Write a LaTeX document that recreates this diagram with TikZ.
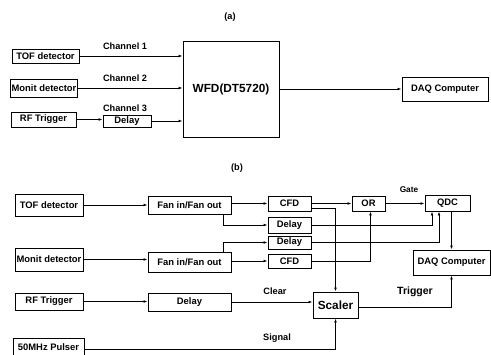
\documentclass[tikz,border=0pt]{standalone}
\usepackage{fontspec}
\setmainfont{Liberation Sans}
\usetikzlibrary{arrows.meta,calc}
\begin{document}
\begin{tikzpicture}[x=1pt,y=-1pt,
  blk/.style={draw,line width=0.9pt,inner sep=0pt,font=\bfseries\fontsize{9.4}{10}\selectfont},
  lbl/.style={inner sep=0pt,font=\bfseries\fontsize{9.2}{10}\selectfont},
  con/.style={line width=0.85pt,-{Latex[length=4pt,width=2.8pt]}},
  wire/.style={line width=0.85pt}]
\useasboundingbox (0,0) rectangle (491,355);
\clip (0,0) rectangle (491,355);
% ---------- (a) ----------
\node[lbl] (la) at (230,17) {(a)};
\node[blk,minimum width=67pt,minimum height=14pt] (tofA) at (45.5,56) {TOF detector};
\node[blk,minimum width=67pt,minimum height=18pt] (monA) at (44,88) {Monit detector};
\node[blk,minimum width=65pt,minimum height=15pt] (rfA) at (43.5,119.5) {RF Trigger};
\node[blk,minimum width=48pt,minimum height=12pt] (delA) at (127,121) {Delay};
\node[blk,minimum width=96pt,minimum height=96pt,font=\bfseries\fontsize{11.8}{13}\selectfont] (wfd) at (231,89) {WFD(DT5720)};
\node[blk,minimum width=86pt,minimum height=24pt] (daqA) at (445,89) {DAQ Computer};
\node[lbl] (c1) at (125,46) {Channel 1};
\node[lbl] (c2) at (125,78) {Channel 2};
\node[lbl] (c3) at (125,108) {Channel 3};
\draw[con] (tofA.east) -- (tofA.east -| wfd.west);
\draw[con] (monA.east) -- (monA.east -| wfd.west);
\draw[con] (rfA.east) -- (rfA.east -| delA.west);
\draw[con] (delA.east) -- (delA.east -| wfd.west);
\draw[con] (wfd.east) -- (wfd.east -| daqA.west);
% ---------- (b) ----------
\node[lbl] (lb) at (237,168) {(b)};
\node[blk,minimum width=68pt,minimum height=22pt] (tofB) at (49,205) {TOF detector};
\node[blk,minimum width=68pt,minimum height=23pt] (monB) at (49,259.5) {Monit detector};
\node[blk,minimum width=68pt,minimum height=17pt] (rfB) at (49,301.5) {RF Trigger};
\node[blk,minimum width=71pt,minimum height=19pt] (pul) at (48.5,347.5) {50MHz Pulser};
\node[blk,minimum width=83pt,minimum height=18pt] (fan1) at (189.5,205) {Fan in/Fan out};
\node[blk,minimum width=83pt,minimum height=20pt] (fan2) at (189.5,262) {Fan in/Fan out};
\node[blk,minimum width=83pt,minimum height=18pt] (delB) at (189.5,302) {Delay};
\node[blk,minimum width=43pt,minimum height=15pt] (cfd1) at (289.5,203.5) {CFD};
\node[blk,minimum width=43pt,minimum height=16pt] (dl1) at (289.5,225) {Delay};
\node[blk,minimum width=43pt,minimum height=13pt] (dl2) at (289.5,242.5) {Delay};
\node[blk,minimum width=43pt,minimum height=14pt] (cfd2) at (289.5,261) {CFD};
\node[blk,minimum width=33pt,minimum height=15pt] (or) at (368.5,203.5) {OR};
\node[blk,minimum width=45pt,minimum height=16pt] (qdc) at (447.5,203) {QDC};
\node[blk,minimum width=77pt,minimum height=25pt] (daqB) at (451.5,262.5) {DAQ Computer};
\node[blk,minimum width=45pt,minimum height=26pt,font=\bfseries\fontsize{11.8}{13}\selectfont] (sc) at (335.5,305) {Scaler};
\node[lbl,font=\bfseries\fontsize{8.3}{9}\selectfont] (gate) at (409,190) {Gate};
\node[lbl] (clear) at (275,291) {Clear};
\node[lbl,font=\bfseries\fontsize{10.5}{12}\selectfont] (trig) at (415,292) {Trigger};
\node[lbl] (sig) at (277,338) {Signal};
\draw[con] (tofB.east) -- (tofB.east -| fan1.west);
\draw[con] (monB.east) -- (monB.east -| fan2.west);
\draw[con] (rfB.east) -- (rfB.east -| delB.west);
\draw[con] (fan1.east |- cfd1) -- (cfd1.west);
\draw[con] ($(fan1.south east)+(-8,0)$) |- (dl1.west);
\draw[con] ($(fan2.north east)+(-8,0)$) |- (dl2.west);
\draw[con] (fan2.east |- cfd2) -- (cfd2.west);
\draw[con] (cfd1.east) -- (cfd1.east -| or.west);
\draw[con] ($(cfd1.east)+(0,4.5)$) -| (sc.north);
\draw[con] (or.east) -- (or.east -| qdc.west);
\draw[con] (dl1.east) -| ($(qdc.south)+(-15.5,0)$);
\draw[con] (dl2.east) -| ($(qdc.south)+(-8.5,0)$);
\draw[con] (cfd2.east) -| ($(or.south)+(2,0)$);
\draw[con] (daqB.north |- qdc.south) -- (daqB.north);
\draw[con] (delB.east) -- (delB.east -| sc.west);
\draw[con] ($(sc.east)+(0,2)$) -| (daqB.south);
\draw[con] ($(pul.east)+(0,1.5)$) -| (sc.south);
\end{tikzpicture}
\end{document}
